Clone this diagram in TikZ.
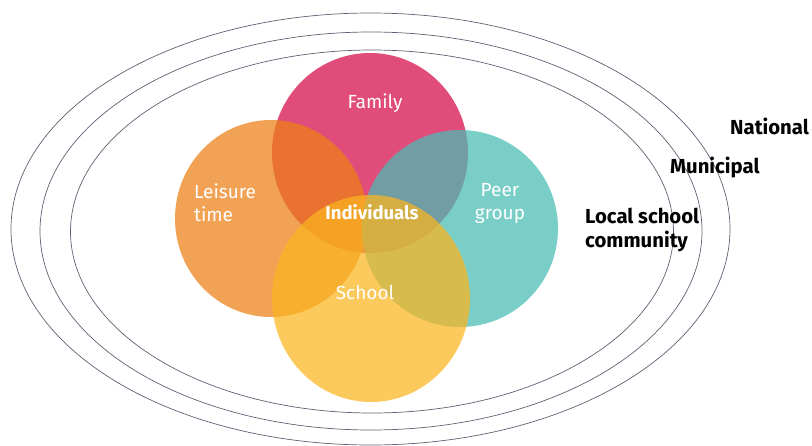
\documentclass[tikz,border=0pt]{standalone}
\usepackage{fontspec}
\setmainfont{Fira Sans}
\usetikzlibrary{shapes.geometric}
\definecolor{famc}{RGB}{225,77,122}
\definecolor{leic}{RGB}{236,128,22}
\definecolor{peec}{RGB}{73,188,180}
\definecolor{schc}{RGB}{250,181,32}
\definecolor{ringc}{RGB}{95,95,115}
\tikzset{
  blob/.style={ellipse, inner sep=0pt, fill opacity=0.73, draw=none},
  ring/.style={ellipse, inner sep=0pt, draw=ringc, line width=0.7pt},
  inlbl/.style={text=white, font=\fontsize{19}{23}\selectfont, align=left, inner sep=0pt},
  outlbl/.style={text=black, font=\fontsize{20.3}{24}\selectfont\bfseries, align=left, inner sep=0pt, anchor=west},
}
\begin{document}
\begin{tikzpicture}[x=1pt,y=-1pt]
\useasboundingbox (0,0) rectangle (812,445);
% rings
\node[ring, minimum width=603pt, minimum height=363pt] (local) at (372,231.5) {};
\node[ring, minimum width=662pt, minimum height=398pt] (muni) at (371,231) {};
\node[ring, minimum width=719pt, minimum height=432pt] (nat) at (370.5,229) {};
% circles
\node[blob, fill=famc, fill opacity=1, minimum width=196pt, minimum height=200pt] (fam) at (370,153) {};
\node[blob, fill=leic, minimum width=192pt, minimum height=197pt] (lei) at (271,218.5) {};
\node[blob, fill=peec, minimum width=196pt, minimum height=197pt] (pee) at (460,228.5) {};
\node[blob, fill=schc, minimum width=198pt, minimum height=207pt] (sch) at (371,298.5) {};
% inner labels
\node[inlbl] (famlbl) at (375,103) {Family};
\node[inlbl, anchor=west] (leilbl) at (194,203) {Leisure\\time};
\node[inlbl, align=center] (peelbl) at (500,203) {Peer\\group};
\node[inlbl, font=\fontsize{18.5}{23}\selectfont\bfseries] (indlbl) at (372,212) {Individuals};
\node[inlbl] (schlbl) at (365,292) {School};
% outer labels
\node[outlbl] (natlbl) at (730,126) {National};
\node[outlbl] (munlbl) at (670,168) {Municipal};
\node[outlbl] (loclbl) at (585,230) {Local school\\community};
\end{tikzpicture}
\end{document}
